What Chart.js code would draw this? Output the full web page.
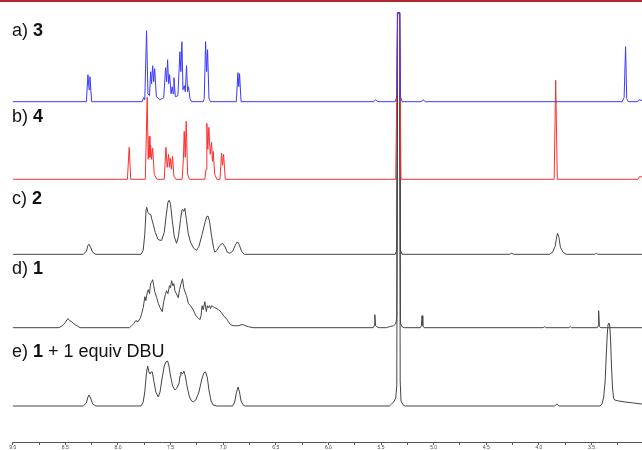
<!DOCTYPE html>
<html>
<head>
<meta charset="utf-8">
<script src="https://cdn.jsdelivr.net/npm/chart.js@4.4.1/dist/chart.umd.min.js"></script>
<style>
  body { margin: 0; background: #fff; }
  #wrap { position: relative; width: 642px; height: 450px; }
  #topline { position: absolute; left: 0; top: 0; width: 642px; height: 2px; background: #b3262c; }
  .lbl { position: absolute; left: 12px; font-family: "Liberation Sans", Arial, sans-serif;
         font-size: 18px; line-height: 18px; color: #111; white-space: nowrap; }
  .lbl b { font-weight: bold; }
</style>
</head>
<body>
<div id="wrap">
  <canvas id="nmr" width="642" height="450"></canvas>
  <div id="topline"></div>
  <div class="lbl" style="top:21px">a) <b>3</b></div>
  <div class="lbl" style="top:107px">b) <b>4</b></div>
  <div class="lbl" style="top:189px">c) <b>2</b></div>
  <div class="lbl" style="top:259px">d) <b>1</b></div>
  <div class="lbl" style="top:342px">e) <b>1</b> + 1 equiv DBU</div>
</div>
<script>
// chemical shift (ppm) and intensity, intensity relative to its own baseline
const spec3 = [
  [9.0,0],[8.30,0],[8.285,27],[8.274,12],[8.266,25],[8.25,0],
  [7.77,0],[7.755,4],[7.745,2],[7.728,71],[7.715,8],[7.70,6],[7.689,30],[7.68,18],[7.670,36],[7.66,20],
  [7.651,33],[7.635,5],[7.60,2],[7.565,4],[7.547,34],[7.537,20],[7.528,42],[7.518,18],[7.509,27],[7.495,8],
  [7.484,15],[7.476,8],[7.468,24],[7.455,5],[7.43,6],[7.411,50],[7.402,30],[7.392,60],[7.382,12],[7.370,16],
  [7.36,10],[7.348,36],[7.338,10],[7.329,15],[7.315,3],[7.30,0],
  [7.19,0],[7.18,3],[7.167,60],[7.157,30],[7.148,52],[7.135,3],[7.12,0],
  [6.875,0],[6.86,29],[6.852,15],[6.844,28],[6.83,0],
  [5.57,0],[5.55,2],[5.53,0],
  [5.365,0],[5.35,5],[5.345,89],[5.322,89],[5.315,5],[5.30,0],
  [5.12,0],[5.10,2],[5.08,0],
  [3.21,0],[3.19,4],[3.176,55],[3.165,3],[3.15,0],
  [3.06,0],[3.045,2],[3.02,1]
];
const spec4 = [
  [9.0,0],[7.91,0],[7.893,32],[7.878,0],
  [7.74,0],[7.722,82],[7.712,20],[7.703,43],[7.696,22],[7.689,34],[7.68,20],[7.670,31],[7.655,5],[7.63,0],
  [7.56,0],[7.544,32],[7.532,12],[7.519,25],[7.511,12],[7.503,21],[7.492,10],[7.481,23],[7.468,3],[7.45,0],
  [7.39,0],[7.378,20],[7.370,48],[7.361,22],[7.351,58],[7.338,5],[7.32,0],
  [7.175,0],[7.163,10],[7.155,56],[7.146,30],[7.136,52],[7.123,25],[7.110,37],[7.102,18],[7.095,28],[7.08,5],[7.06,0],
  [7.03,0],[7.015,26],[7.006,14],[6.996,25],[6.98,0],
  [5.36,0],[5.342,166],[5.325,166],[5.31,0],
  [3.855,0],[3.840,99],[3.825,0],
  [3.06,0],[3.04,3],[3.02,2]
];
const spec2 = [
  [9.0,0],[8.33,0],[8.30,3],[8.285,9],[8.275,10],[8.26,7],[8.24,2],[8.21,0],
  [7.78,0],[7.76,4],[7.745,20],[7.732,45],[7.727,47],[7.715,42],[7.70,40],[7.689,40],[7.675,34],[7.665,30],
  [7.645,22],[7.62,15],[7.60,14],[7.585,14],[7.56,22],[7.54,40],[7.525,52],[7.513,54],[7.50,50],[7.485,35],
  [7.465,18],[7.443,11],[7.425,18],[7.405,35],[7.392,44],[7.386,45],[7.375,43],[7.364,46],[7.35,35],[7.332,21],
  [7.31,12],[7.28,6],[7.253,4],[7.23,8],[7.20,20],[7.17,33],[7.155,38],[7.142,38],[7.13,33],[7.11,18],[7.09,6],
  [7.079,2],[7.06,4],[7.03,9],[7.006,11],[6.985,8],[6.96,2],[6.936,1],[6.91,3],[6.885,9],[6.87,12],[6.858,12],
  [6.845,9],[6.825,3],[6.80,0],
  [5.365,0],[5.35,4],[5.343,241],[5.322,241],[5.315,4],[5.30,0],
  [4.28,0],[4.261,1],[4.24,0],
  [3.90,0],[3.87,2],[3.845,8],[3.83,18],[3.822,21],[3.81,17],[3.795,7],[3.77,2],[3.74,0],
  [3.47,0],[3.454,1],[3.44,0],[3.02,0]
];
const spec1 = [
  [9.0,0],[8.56,0],[8.53,2],[8.50,5],[8.485,8],[8.472,9],[8.46,7],[8.44,6],[8.42,4],[8.39,2],[8.36,0],
  [7.89,0],[7.87,2],[7.85,4],[7.83,7],[7.81,6],[7.79,9],[7.775,14],[7.76,20],[7.744,31],[7.735,27],[7.72,36],
  [7.712,38],[7.70,34],[7.69,44],[7.678,46],[7.670,48],[7.66,42],[7.65,36],[7.632,30],[7.615,24],[7.60,20],
  [7.579,16],[7.565,26],[7.55,33],[7.538,37],[7.525,34],[7.51,42],[7.50,40],[7.490,47],[7.478,42],[7.468,44],
  [7.459,37],[7.445,34],[7.427,30],[7.415,38],[7.40,44],[7.386,49],[7.375,40],[7.36,35],[7.348,32],[7.33,24],
  [7.31,22],[7.285,18],[7.26,12],[7.24,10],[7.221,8],[7.21,12],[7.20,22],[7.19,18],[7.174,26],[7.16,16],
  [7.15,22],[7.142,20],[7.13,22],[7.12,19],[7.11,22],[7.095,21],[7.08,20],[7.06,19],[7.045,18],[7.031,17],
  [7.01,14],[6.99,11],[6.968,9],[6.95,6],[6.93,3],[6.905,2],[6.88,2],[6.85,2],[6.83,3],[6.81,3],[6.79,2],
  [6.76,1],[6.715,0],
  [5.575,0],[5.565,2],[5.559,13],[5.552,2],[5.54,1],[5.52,0],
  [5.45,0],[5.42,1],[5.38,2],[5.36,4],[5.35,10],[5.343,315],[5.323,315],[5.315,4],[5.30,1],[5.28,0],
  [5.125,0],[5.116,2],[5.110,12],[5.103,2],[5.09,0],
  [3.96,0],[3.945,1],[3.93,0],[3.715,0],[3.701,1],[3.69,0],
  [3.445,0],[3.437,2],[3.432,17],[3.425,1],[3.41,0],[3.02,0]
];
const spec1dbu = [
  [9.0,0],[8.33,0],[8.30,3],[8.285,9],[8.275,11],[8.26,8],[8.24,2],[8.21,0],
  [7.78,0],[7.76,4],[7.745,14],[7.73,32],[7.718,40],[7.705,34],[7.696,32],[7.685,34],[7.674,34],[7.66,26],
  [7.64,14],[7.617,9],[7.60,14],[7.58,28],[7.56,40],[7.545,44],[7.528,45],[7.515,40],[7.50,30],[7.48,20],
  [7.459,16],[7.44,18],[7.421,22],[7.41,30],[7.402,34],[7.386,32],[7.373,35],[7.36,30],[7.34,18],[7.32,9],
  [7.30,5],[7.285,4],[7.26,6],[7.23,14],[7.205,26],[7.185,33],[7.167,34],[7.15,28],[7.135,16],[7.115,5],
  [7.095,1],[7.06,0],
  [6.91,0],[6.89,4],[6.875,13],[6.858,19],[6.845,14],[6.83,5],[6.81,1],[6.79,0],
  [5.42,0],[5.40,2],[5.38,4],[5.36,8],[5.35,20],[5.343,393],[5.323,393],[5.318,25],[5.31,5],[5.29,1],[5.27,0],
  [3.85,0],[3.828,2],[3.81,0],
  [3.42,0],[3.40,2],[3.385,8],[3.37,25],[3.36,50],[3.35,72],[3.342,82],[3.334,83],[3.326,80],[3.318,65],
  [3.31,40],[3.30,18],[3.29,8],[3.28,6],[3.24,5],[3.18,4],[3.10,3],[3.02,2]
];

const traces = [spec3, spec4, spec2, spec1, spec1dbu];
const traceColors = ['#3a3aff', '#ff2e2e', '#444', '#444', '#444'];
// baseline of each trace, in the same units, counted up from the ppm axis
const baselines = [340.3, 262.7, 187.7, 114.3, 36];

const datasets = traces.map((t, i) => ({
  data: t.map(p => ({ x: p[0], y: baselines[i] + p[1] })),
  borderColor: traceColors[i],
  borderWidth: 1,
  pointRadius: 0,
  tension: 0,
  fill: false
}));

new Chart(document.getElementById('nmr'), {
  type: 'line',
  data: { datasets: datasets },
  options: {
    responsive: false,
    animation: false,
    devicePixelRatio: 1,
    layout: { padding: { left: 12.7, right: 0, top: 0, bottom: 0 } },
    plugins: { legend: { display: false }, tooltip: { enabled: false } },
    scales: {
      x: {
        type: 'linear',
        reverse: true,
        min: 3.02,
        max: 9.0,
        grid: { drawOnChartArea: false, drawTicks: true, tickLength: 3, color: '#555' },
        border: { display: true, color: '#555', width: 1 },
        ticks: {
          stepSize: 0.25,
          includeBounds: false,
          autoSkip: false,
          maxRotation: 0,
          padding: 0,
          color: '#444',
          font: { family: 'Liberation Sans, Arial, sans-serif', size: 5, lineHeight: 1 },
          callback: v => Math.abs(v * 2 - Math.round(v * 2)) < 1e-6 ? v.toFixed(1) : ''
        }
      },
      y: { display: false, min: 0, max: 442 }
    }
  }
});
</script>
</body>
</html>
